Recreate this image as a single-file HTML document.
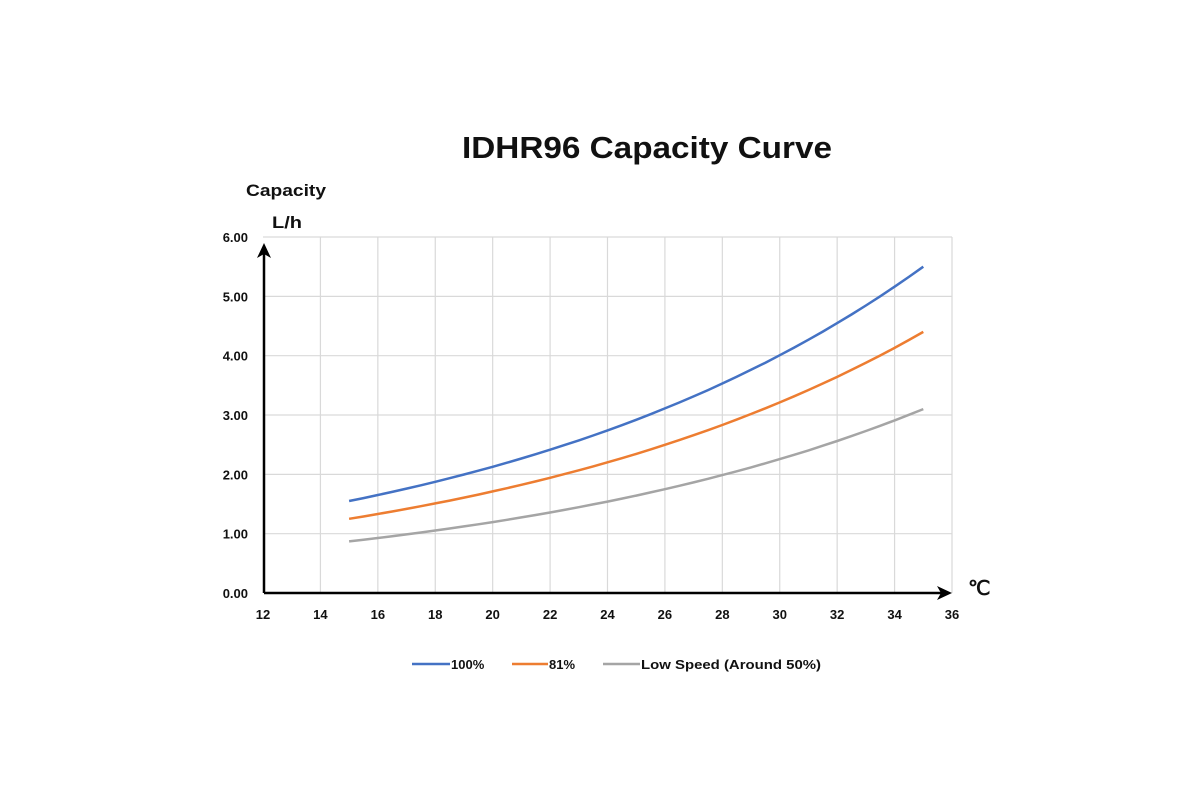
<!DOCTYPE html>
<html><head><meta charset="utf-8"><style>
html,body{margin:0;padding:0;background:#fff;width:1200px;height:800px;overflow:hidden}
text{font-family:"Liberation Sans",sans-serif;font-weight:bold;fill:#111}
</style></head><body>
<svg id="s" width="1200" height="800" xmlns="http://www.w3.org/2000/svg">
<text x="647" y="158" font-size="31" text-anchor="middle" textLength="370" lengthAdjust="spacingAndGlyphs">IDHR96  Capacity Curve</text>
<text x="246" y="196" font-size="17" textLength="80" lengthAdjust="spacingAndGlyphs">Capacity</text>
<text x="272" y="228" font-size="17" textLength="30" lengthAdjust="spacingAndGlyphs">L/h</text>
<g id="grid" stroke="#d9d9d9" stroke-width="1.2"></g>
<g id="lab" font-size="13"></g>
<line x1="264" y1="593" x2="264" y2="252" stroke="#000" stroke-width="2.5"/>
<polygon points="264,243 257,258 264,254 271,258" fill="#000"/>
<line x1="264" y1="593" x2="942" y2="593" stroke="#000" stroke-width="2.5"/>
<polygon points="952,593 937,586 941,593 937,600" fill="#000"/>
<text x="968" y="595" font-size="20" font-weight="normal">℃</text>
<g id="curves" fill="none" stroke-width="2.5"></g>
<line x1="412" y1="664" x2="450" y2="664" stroke="#4472c4" stroke-width="2.5"/>
<text x="451" y="669" font-size="13">100%</text>
<line x1="512" y1="664" x2="548" y2="664" stroke="#ed7d31" stroke-width="2.5"/>
<text x="549" y="669" font-size="13">81%</text>
<line x1="603" y1="664" x2="640" y2="664" stroke="#a5a5a5" stroke-width="2.5"/>
<text x="641" y="669" font-size="13" textLength="180" lengthAdjust="spacingAndGlyphs">Low Speed (Around 50%)</text>
</svg>
<script>
var NS="http://www.w3.org/2000/svg";
function X(t){return 263+(t-12)*(952-263)/24}
function Y(v){return 593-v*59.33}
var g=document.getElementById('grid'),l=document.getElementById('lab'),c=document.getElementById('curves');
function el(p,tag,a,txt){var e=document.createElementNS(NS,tag);for(var k in a)e.setAttribute(k,a[k]);if(txt)e.textContent=txt;p.appendChild(e);}
for(var t=14;t<=36;t+=2)el(g,'line',{x1:X(t),y1:237,x2:X(t),y2:593});
for(var v=1;v<=6;v++)el(g,'line',{x1:263,y1:Y(v),x2:952,y2:Y(v)});
for(var t=12;t<=36;t+=2)el(l,'text',{x:X(t),y:619,'text-anchor':'middle'},String(t));
for(var v=0;v<=6;v++)el(l,'text',{x:248,y:Y(v)+5,'text-anchor':'end'},v.toFixed(2));
[[1.55,5.5,'#4472c4'],[1.25,4.4,'#ed7d31'],[0.87,3.1,'#a5a5a5']].forEach(function(s){
 var k=Math.log(s[1]/s[0])/20,d='';
 for(var t=15;t<=35.001;t+=0.5){d+=(d?'L':'M')+X(t).toFixed(1)+','+Y(s[0]*Math.exp(k*(t-15))).toFixed(1);}
 el(c,'path',{d:d,stroke:s[2]});
});
</script>
</body></html>
